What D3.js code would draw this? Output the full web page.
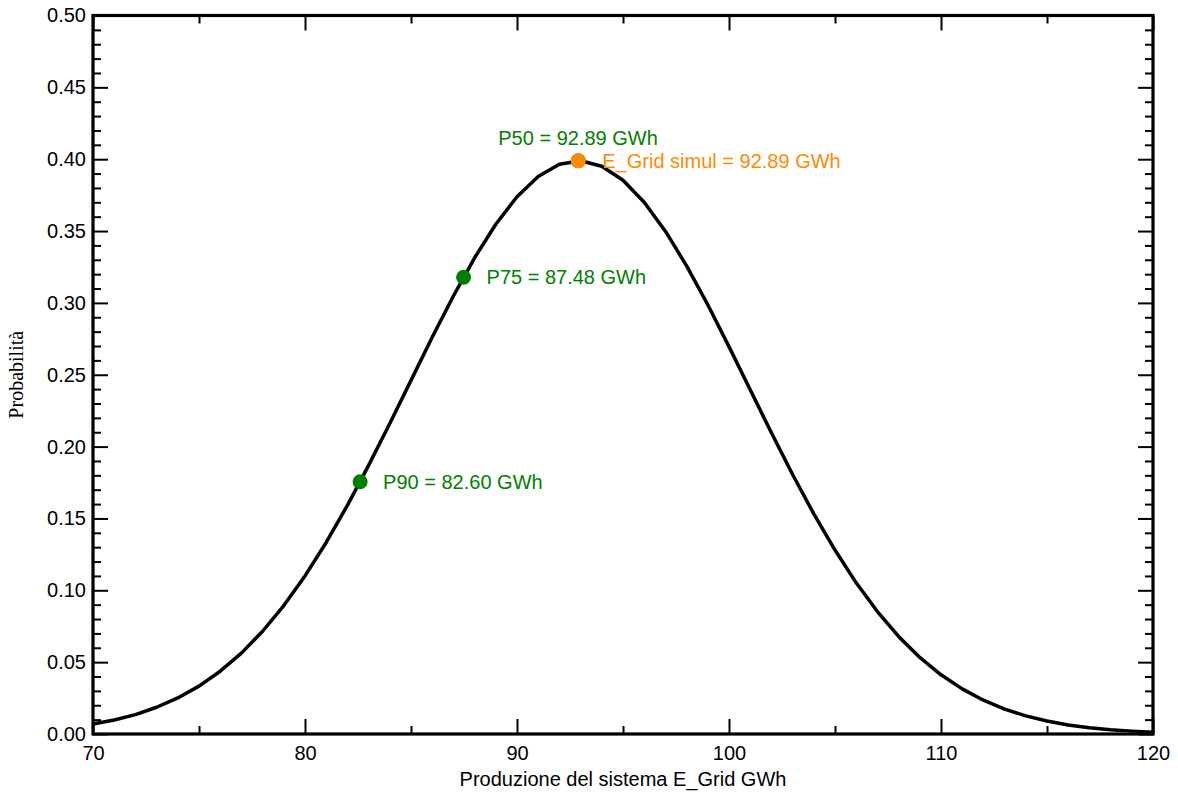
<!DOCTYPE html>
<html>
<head>
<meta charset="utf-8">
<script src="https://cdn.jsdelivr.net/npm/d3@7"></script>
<style>
  html, body { margin: 0; padding: 0; background: #ffffff; }
  svg { display: block; }
</style>
</head>
<body>
<svg id="chart" width="1178" height="793"></svg>
<script>
// Probability curve of annual energy production, sampled every 1 GWh
const energyGWh = d3.range(70, 121);
const probability = [
  0.0069, 0.0097, 0.0135, 0.0186, 0.0251, 0.0333, 0.0437, 0.0563, 0.0715, 0.0894,
  0.1100, 0.1333, 0.1591, 0.1869, 0.2161, 0.2461, 0.2761, 0.3048, 0.3314, 0.3547,
  0.3739, 0.3880, 0.3965, 0.3989, 0.3951, 0.3854, 0.3701, 0.3499, 0.3258, 0.2987,
  0.2696, 0.2396, 0.2096, 0.1806, 0.1532, 0.1280, 0.1052, 0.0852, 0.0679, 0.0533,
  0.0412, 0.0314, 0.0235, 0.0173, 0.0126, 0.0090, 0.0063, 0.0044, 0.0030, 0.0020,
  0.0013
];

// Marked percentiles
const pointNames  = ["P90", "P75", "P50"];
const pointEnergy = [82.60, 87.48, 92.89];
const pointProb   = [0.1755, 0.3178, 0.3989];

// Simulated yield
const simulName   = "E_Grid simul";
const simulEnergy = 92.89;
const simulProb   = 0.3989;

// Axis ticks
const xMajorTicks = [70, 80, 90, 100, 110, 120];
const xMinorTicks = [75, 85, 95, 105, 115];
const yMajorTicks = [0, 0.05, 0.10, 0.15, 0.20, 0.25, 0.30, 0.35, 0.40, 0.45, 0.50];
const yMinorTicks = d3.range(0, 51).filter(i => i % 5 !== 0).map(i => i / 100);

const xTitle = "Produzione del sistema E_Grid GWh";
const yTitle = "Probabilità";

const green  = "#008000";
const orange = "#ff8a00";
const SANS   = "'Liberation Sans', Arial, sans-serif";
const SERIF  = "'Liberation Serif', 'Times New Roman', serif";

const plotLeft = 93, plotRight = 1153, plotTop = 15.5, plotBottom = 734;

const svg = d3.select("#chart");

const x = d3.scaleLinear().domain([70, 120]).range([plotLeft, plotRight]);
const y = d3.scaleLinear().domain([0, 0.5]).range([plotBottom, plotTop]);

const fmtY = d3.format(".2f");

function styleAxis(g) {
  g.select(".domain").remove();
  g.selectAll(".tick line").attr("stroke", "#000").attr("stroke-width", 2);
  g.selectAll("text")
    .attr("fill", "#000")
    .style("font-family", SANS)
    .style("font-size", "20px");
}

// Bottom axis
svg.append("g").attr("transform", `translate(0,${plotBottom})`)
  .call(d3.axisBottom(x).tickValues(xMajorTicks).tickSize(-15).tickPadding(12).tickFormat(d3.format("d")))
  .call(styleAxis);
svg.append("g").attr("transform", `translate(0,${plotBottom})`)
  .call(d3.axisBottom(x).tickValues(xMinorTicks).tickSize(-8).tickFormat(""))
  .call(styleAxis);

// Top axis
svg.append("g").attr("transform", `translate(0,${plotTop})`)
  .call(d3.axisTop(x).tickValues(xMajorTicks).tickSize(-15).tickFormat(""))
  .call(styleAxis);
svg.append("g").attr("transform", `translate(0,${plotTop})`)
  .call(d3.axisTop(x).tickValues(xMinorTicks).tickSize(-8).tickFormat(""))
  .call(styleAxis);

// Left axis
svg.append("g").attr("transform", `translate(${plotLeft},0)`)
  .call(d3.axisLeft(y).tickValues(yMajorTicks).tickSize(-15).tickPadding(7).tickFormat(fmtY))
  .call(styleAxis);
svg.append("g").attr("transform", `translate(${plotLeft},0)`)
  .call(d3.axisLeft(y).tickValues(yMinorTicks).tickSize(-8).tickFormat(""))
  .call(styleAxis);

// Right axis
svg.append("g").attr("transform", `translate(${plotRight},0)`)
  .call(d3.axisRight(y).tickValues(yMajorTicks).tickSize(-15).tickFormat(""))
  .call(styleAxis);
svg.append("g").attr("transform", `translate(${plotRight},0)`)
  .call(d3.axisRight(y).tickValues(yMinorTicks).tickSize(-8).tickFormat(""))
  .call(styleAxis);

// Curve
const line = d3.line()
  .x((d, i) => x(energyGWh[i]))
  .y(d => y(d));

svg.append("path")
  .datum(probability)
  .attr("fill", "none")
  .attr("stroke", "#000")
  .attr("stroke-width", 3.5)
  .attr("stroke-linejoin", "round")
  .attr("d", line);

// Frame
svg.append("rect")
  .attr("x", plotLeft).attr("y", plotTop)
  .attr("width", plotRight - plotLeft).attr("height", plotBottom - plotTop)
  .attr("fill", "none").attr("stroke", "#000").attr("stroke-width", 3.2);

// Percentile markers
const pts = pointNames.map((n, i) => ({ name: n, e: pointEnergy[i], p: pointProb[i] }));
svg.append("g").selectAll("circle")
  .data(pts).join("circle")
  .attr("cx", d => x(d.e)).attr("cy", d => y(d.p))
  .attr("r", 7.5).attr("fill", green);

svg.append("g").selectAll("text")
  .data(pts).join("text")
  .attr("x", d => d.name === "P50" ? x(d.e) - 80 : x(d.e) + 23)
  .attr("y", d => d.name === "P50" ? y(d.p) - 16 : y(d.p) + 7)
  .attr("fill", green)
  .style("font-family", SANS).style("font-size", "20px")
  .text(d => `${d.name} = ${d.e.toFixed(2)} GWh`);

// Simulated value
svg.append("circle")
  .attr("cx", x(simulEnergy)).attr("cy", y(simulProb))
  .attr("r", 7.5).attr("fill", orange);
svg.append("text")
  .attr("x", x(simulEnergy) + 24).attr("y", y(simulProb) + 7)
  .attr("fill", orange)
  .style("font-family", SANS).style("font-size", "20px")
  .text(`${simulName} = ${simulEnergy.toFixed(2)} GWh`);

// Axis titles
svg.append("text")
  .attr("x", (plotLeft + plotRight) / 2).attr("y", 786)
  .attr("text-anchor", "middle")
  .style("font-family", SANS).style("font-size", "20px")
  .text(xTitle);

svg.append("text")
  .attr("transform", `translate(23,${(plotTop + plotBottom) / 2}) rotate(-90)`)
  .attr("text-anchor", "middle")
  .style("font-family", SERIF).style("font-size", "20px")
  .text(yTitle);
</script>
</body>
</html>
